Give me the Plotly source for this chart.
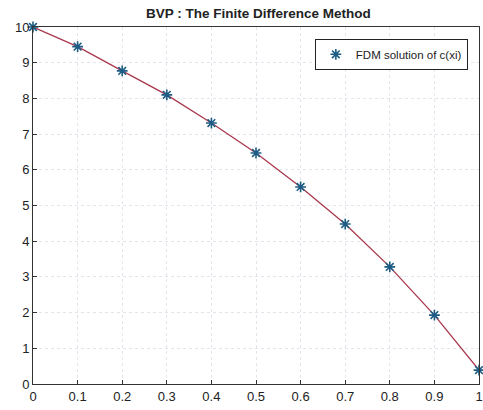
import plotly.graph_objects as go

x_vals = [0, 0.1, 0.2, 0.3, 0.4, 0.5, 0.6, 0.7, 0.8, 0.9, 1.0]
c_vals = [10.0, 9.45, 8.77, 8.10, 7.31, 6.47, 5.52, 4.48, 3.28, 1.93, 0.39]
x_ticks = [0, 0.1, 0.2, 0.3, 0.4, 0.5, 0.6, 0.7, 0.8, 0.9, 1]
x_tick_labels = ["0", "0.1", "0.2", "0.3", "0.4", "0.5", "0.6", "0.7", "0.8", "0.9", "1"]
y_ticks = [0, 1, 2, 3, 4, 5, 6, 7, 8, 9, 10]

fig = go.Figure()
fig.add_trace(go.Scatter(
    x=x_vals, y=c_vals, mode="lines",
    line=dict(color="#a8384e", width=1.3),
    showlegend=False, hoverinfo="skip"))
fig.add_trace(go.Scatter(
    x=x_vals, y=c_vals, mode="markers",
    marker=dict(symbol="asterisk-open", size=9, color="#1d5c84",
                line=dict(color="#1d5c84", width=1.6)),
    name="FDM solution of c(xi)", cliponaxis=False))

fig.update_layout(
    width=483, height=410,
    margin=dict(l=33, r=0, t=27, b=26),
    paper_bgcolor="white", plot_bgcolor="white",
    font=dict(family="Liberation Sans, Arial", size=13, color="#222"),
    title=dict(text="<b>BVP : The Finite Difference Method</b>",
               x=0.535, xanchor="center", y=0.967, yanchor="middle",
               font=dict(size=13.5, color="#222")),
    legend=dict(x=0.975, y=0.967, xanchor="right", yanchor="top",
                bordercolor="#222", borderwidth=1, bgcolor="white",
                font=dict(size=11.5, color="#222")),
    xaxis=dict(range=[0, 1.0], tickvals=x_ticks, ticktext=x_tick_labels,
               ticklabeloverflow="allow",
               showline=True, linecolor="#333", linewidth=1, mirror=True,
               ticks="inside", ticklen=4, tickcolor="#333",
               showgrid=True, gridcolor="#e2e5eb", griddash="dot", gridwidth=1,
               zeroline=False, tickfont=dict(size=13)),
    yaxis=dict(range=[0, 10], tickvals=y_ticks,
               showline=True, linecolor="#333", linewidth=1, mirror=True,
               ticks="inside", ticklen=4, tickcolor="#333",
               showgrid=True, gridcolor="#e2e5eb", griddash="dot", gridwidth=1,
               zeroline=False, tickfont=dict(size=13)),
)

fig.write_html(
    "out.html",
    config={"displayModeBar": False},
    post_script="document.body.style.margin='0';document.body.style.overflow='hidden';",
)
